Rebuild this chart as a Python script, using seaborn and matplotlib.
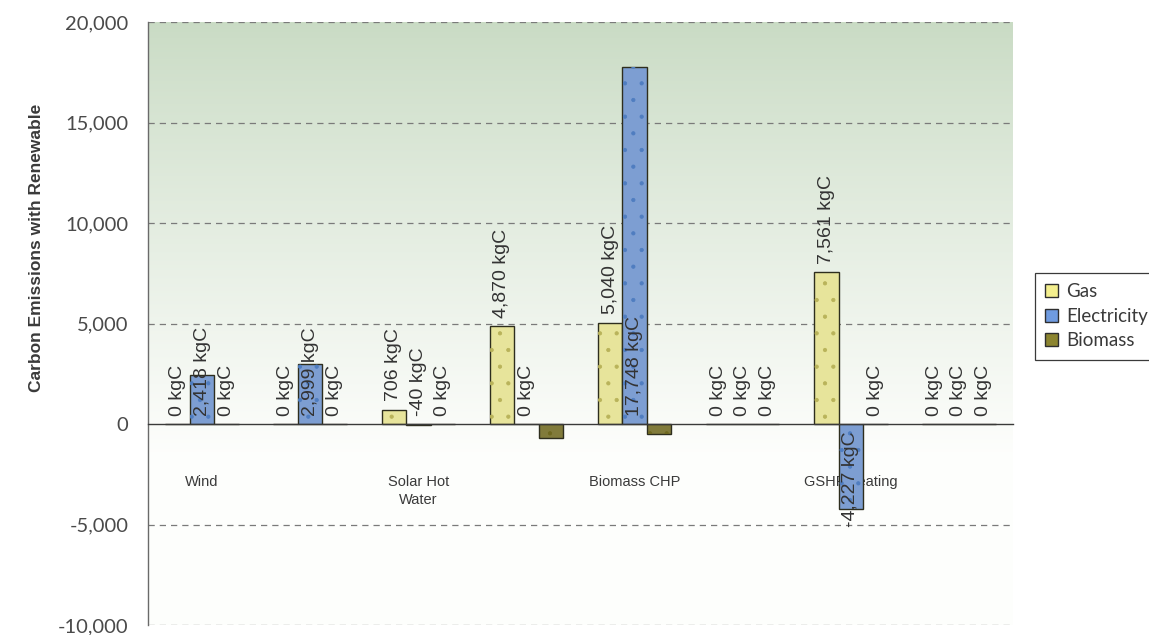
import numpy as np
import pandas as pd
import matplotlib
matplotlib.use("Agg")
import matplotlib.pyplot as plt
from matplotlib.patches import Rectangle, Patch
from matplotlib.ticker import FuncFormatter, FixedLocator
import seaborn as sns

# ---- data -------------------------------------------------------------
tick_labels = ["Wind", "", "Solar Hot\nWater", "", "Biomass CHP", "", "GSHP heating", ""]
sources = ["Gas", "Electricity", "Biomass"]
gas = [0, 0, 706, 4870, 5040, 0, 7561, 0]
electricity = [2418, 2999, -40, 0, 17748, 0, -4227, 0]
biomass = [0, 0, 0, -700, -500, 0, 0, 0]
y_ticks = [-10000, -5000, 0, 5000, 10000, 15000, 20000]

colors = {"Gas": "#f4ef8e", "Electricity": "#6f9be0", "Biomass": "#8c8530"}
dot_colors = {"Gas": "#b9b35a", "Electricity": "#4f7dc0", "Biomass": "#6e6820"}

rows = []
for i in range(len(tick_labels)):
    for name, vals in zip(sources, [gas, electricity, biomass]):
        rows.append({"slot": i, "source": name, "value": vals[i]})
df = pd.DataFrame(rows)

# ---- figure -----------------------------------------------------------
sns.set_style("white")
plt.rcParams["font.family"] = ["Liberation Sans", "DejaVu Sans"]
plt.rcParams["hatch.linewidth"] = 0.6

fig = plt.figure(figsize=(11.49, 6.35), dpi=100)
ax = fig.add_axes([148 / 1149, 1 - 625 / 635, (1013 - 148) / 1149, (625 - 22) / 635])

# green-to-white vertical gradient behind the plot area
n = 256
t = np.linspace(0, 1, n)[:, None]          # 0 at top, 1 at bottom
top = np.array([0.79, 0.86, 0.77])
white = np.array([0.995, 0.997, 0.99])
mix = np.clip(t / 0.72, 0, 1) ** 0.9
grad = top[None, :] * (1 - mix) + white[None, :] * mix
grad = np.repeat(grad[:, None, :], 2, axis=1)
ax.imshow(grad, extent=[0, 1, 0, 1], transform=ax.transAxes, aspect="auto",
          zorder=0, interpolation="bilinear")

sns.barplot(data=df, x="slot", y="value", hue="source", hue_order=sources,
            order=list(range(len(tick_labels))), palette=colors, width=0.68,
            edgecolor="#2e2e1e", linewidth=1.0, errorbar=None, legend=False,
            ax=ax, zorder=3)

# dotted fill on the bars
for name, cont in zip(sources, ax.containers):
    for bar in cont:
        x, y = bar.get_xy()
        r = Rectangle((x, y), bar.get_width(), bar.get_height(), facecolor="none",
                      edgecolor=dot_colors[name], linewidth=0, hatch=".", zorder=3.5)
        ax.add_patch(r)

ax.set_xlim(-0.5, len(tick_labels) - 0.5)
ax.set_ylim(-10000, 20000)

# grid
for yv in y_ticks:
    if yv != 0:
        ax.axhline(yv, color="#7a7a7a", linestyle=(0, (5, 4)), linewidth=0.9, zorder=1)

# axes styling
for s in ["top", "right"]:
    ax.spines[s].set_visible(False)
ax.spines["left"].set_color("#6a6a6a")
ax.spines["left"].set_linewidth(1.0)
ax.spines["bottom"].set_position(("data", 0))
ax.spines["bottom"].set_color("#3a3a3a")
ax.spines["bottom"].set_linewidth(1.0)
ax.spines["bottom"].set_zorder(4)

ax.set_yticks(y_ticks)
ax.yaxis.set_major_formatter(FuncFormatter(lambda v, p: f"{int(v):,}"))
ax.tick_params(axis="y", which="major", direction="out", length=6, width=0.9,
               color="#6a6a6a", labelsize=14.5, labelcolor="#4a4a4a", pad=8)
for lab in ax.get_yticklabels():
    lab.set_fontfamily(["Lato", "DejaVu Sans"])

ax.set_xticks(range(len(tick_labels)))
ax.set_xticklabels(tick_labels, fontsize=10.5, color="#3a3a3a", va="top",
                   linespacing=1.3)
ax.tick_params(axis="x", which="major", length=0, pad=37)
ax.xaxis.set_minor_locator(FixedLocator(np.arange(-0.5, len(tick_labels), 1.0)))
ax.tick_params(axis="x", which="minor", direction="out", length=4, width=0.9,
               color="#3a3a3a")

ax.set_xlabel("")
ax.set_ylabel("Carbon Emissions with Renewable", fontsize=12.5, fontweight="bold",
              color="#3a3a3a")
ax.yaxis.set_label_coords(-0.12, (625 - 248) / 603)

# value labels
def fmt(v):
    return f"{v:,} kgC"

lab_kw = dict(rotation=90, ha="center", fontsize=14, color="#333333",
              textcoords="offset points", zorder=6)
for name, cont, vals in zip(sources, ax.containers, [gas, electricity, biomass]):
    for bar, v in zip(cont, vals):
        xc = bar.get_x() + bar.get_width() / 2
        if name == "Gas":
            ax.annotate(fmt(v), (xc, max(v, 0)), xytext=(0, 6), va="bottom", **lab_kw)
        elif name == "Electricity":
            if v < -1000:
                ax.annotate(fmt(v), (xc, 0), xytext=(0, -5), va="top", **lab_kw)
            else:
                ax.annotate(fmt(v), (xc, 0), xytext=(0, 6), va="bottom", **lab_kw)
        else:
            if v >= 0:
                ax.annotate(fmt(v), (xc, v), xytext=(0, 6), va="bottom", **lab_kw)

# legend
handles = [Patch(facecolor=colors[s], edgecolor="#2e2e2e", linewidth=1.0, label=s)
           for s in sources]
leg = fig.legend(handles=handles, loc="upper left",
                 bbox_to_anchor=(1035 / 1149, 1 - 273 / 635), frameon=True,
                 fancybox=False, edgecolor="#3a3a3a", framealpha=1,
                 borderaxespad=0,
                 handlelength=0.7, handleheight=0.7, handletextpad=0.4,
                 borderpad=0.55, labelspacing=0.4,
                 prop={"family": ["Lato", "DejaVu Sans"], "size": 13.5})
leg.get_frame().set_linewidth(0.9)
for txt in leg.get_texts():
    txt.set_color("#3a3a3a")

fig.savefig("out.png", dpi=100)
